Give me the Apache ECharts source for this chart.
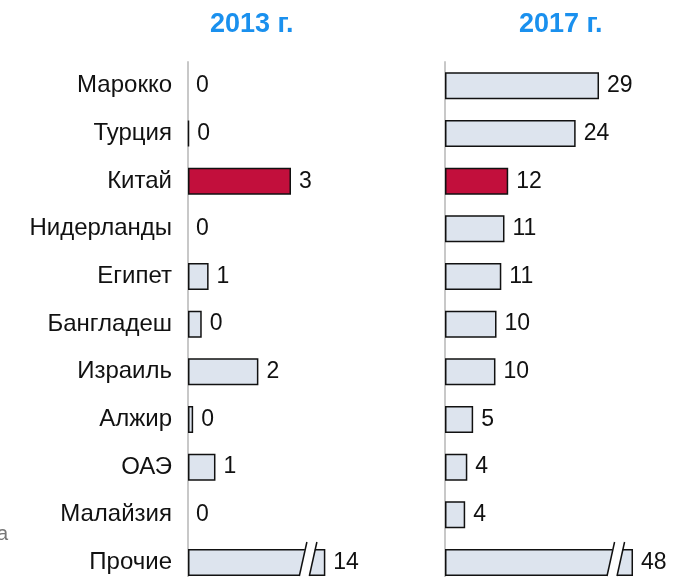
<!DOCTYPE html>
<html>
<head>
<meta charset="utf-8">
<script src="https://cdn.jsdelivr.net/npm/echarts@6/dist/echarts.min.js"></script>
<style>
  html, body { margin: 0; padding: 0; background: #fff; overflow: hidden; }
  #main { width: 692px; height: 600px; }
</style>
</head>
<body>
<div id="main"></div>
<script>
// categories, top to bottom
var countries = ['Марокко', 'Турция', 'Китай', 'Нидерланды', 'Египет', 'Бангладеш',
                 'Израиль', 'Алжир', 'ОАЭ', 'Малайзия', 'Прочие'];

// bar lengths (last one = shown length of the broken bar)
var values2013 = [0, 0.03, 3, 0, 0.6, 0.4, 2.05, 0.15, 0.8, 0, 4.0];
var values2017 = [29, 24.6, 11.9, 11.2, 10.6, 9.7, 9.5, 5.3, 4.2, 3.8, 35.4];

// printed labels
var labels2013 = ['0', '0', '3', '0', '1', '0', '2', '0', '1', '0', '14'];
var labels2017 = ['29', '24', '12', '11', '11', '10', '10', '5', '4', '4', '48'];

var highlight = 'Китай';
var brokenIndex = 10;

var FONT = 'Liberation Sans, Arial, sans-serif';

var chart = echarts.init(document.getElementById('main'));

function barData(vals) {
  return vals.map(function (v, i) {
    return {
      value: v,
      itemStyle: {
        color: countries[i] === highlight ? '#c20f3c' : '#dde4ee',
        borderColor: '#111',
        borderWidth: v === 0 ? 0 : 1.5
      }
    };
  });
}

// draws the break mark on the last bar
function breakRender(params, api) {
  var end = api.coord([api.value(0), api.value(1)]);
  var h = 27;
  var top = end[1] - h / 2, bot = end[1] + h / 2;
  var slant = 6;
  var a = end[0] - 20, b = end[0] - 10;
  var k = slant / h;
  return {
    type: 'group',
    children: [
      {
        type: 'polygon',
        shape: { points: [[a, top - 2], [b, top - 2], [b - slant - 2 * k, bot + 2], [a - slant - 2 * k, bot + 2]] },
        style: { fill: '#fff', stroke: null }
      },
      {
        type: 'line',
        shape: { x1: a + 7 * k, y1: top - 7, x2: a - slant, y2: bot },
        style: { stroke: '#111', lineWidth: 1.5 }
      },
      {
        type: 'line',
        shape: { x1: b + 7 * k, y1: top - 7, x2: b - slant, y2: bot },
        style: { stroke: '#111', lineWidth: 1.5 }
      }
    ]
  };
}

function valueLabel(labels) {
  return {
    show: true,
    position: 'right',
    distance: 8,
    fontFamily: FONT,
    fontSize: 23,
    color: '#111',
    formatter: function (p) { return labels[p.dataIndex]; }
  };
}

var option = {
  animation: false,
  title: [
    { text: '2013 г.', left: 205, top: 6,
      textStyle: { color: '#1a90ee', fontSize: 27, fontWeight: 'bold', fontFamily: FONT } },
    { text: '2017 г.', left: 514, top: 6,
      textStyle: { color: '#1a90ee', fontSize: 27, fontWeight: 'bold', fontFamily: FONT } }
  ],
  grid: [
    { left: 188, top: 62, width: 206, height: 524.3 },
    { left: 445, top: 62, width: 239, height: 524.3 }
  ],
  xAxis: [
    { gridIndex: 0, type: 'value', min: 0, max: 6, show: false },
    { gridIndex: 1, type: 'value', min: 0, max: 45, show: false }
  ],
  yAxis: [
    {
      gridIndex: 0, type: 'category', data: countries, inverse: true,
      axisLine: { lineStyle: { color: '#c8c8c8', width: 2 } },
      axisTick: { show: false },
      axisLabel: { fontFamily: FONT, fontSize: 24, color: '#111', margin: 16 }
    },
    {
      gridIndex: 1, type: 'category', data: countries, inverse: true,
      axisLine: { lineStyle: { color: '#c8c8c8', width: 2 } },
      axisTick: { show: false },
      axisLabel: { show: false }
    }
  ],
  series: [
    {
      type: 'bar', xAxisIndex: 0, yAxisIndex: 0, barWidth: 27,
      data: barData(values2013), label: valueLabel(labels2013)
    },
    {
      type: 'bar', xAxisIndex: 1, yAxisIndex: 1, barWidth: 27,
      data: barData(values2017), label: valueLabel(labels2017)
    },
    {
      type: 'custom', xAxisIndex: 0, yAxisIndex: 0, z: 5,
      renderItem: breakRender,
      data: [[values2013[brokenIndex], brokenIndex]]
    },
    {
      type: 'custom', xAxisIndex: 1, yAxisIndex: 1, z: 5,
      renderItem: breakRender,
      data: [[values2017[brokenIndex], brokenIndex]]
    }
  ],
  graphic: [
    { type: 'text', left: -3, top: 524,
      style: { text: 'а', fill: '#777', font: '20px ' + FONT } }
  ]
};

chart.setOption(option);
</script>
</body>
</html>
